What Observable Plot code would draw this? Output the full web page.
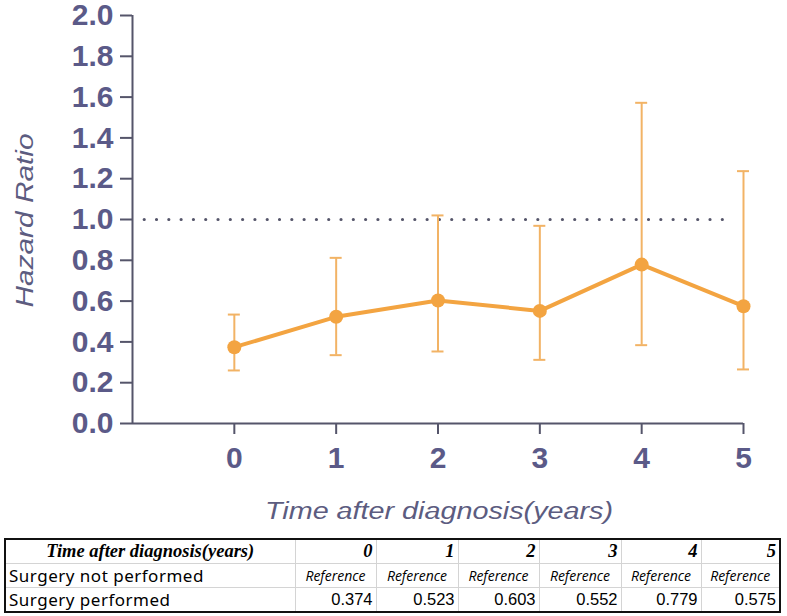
<!DOCTYPE html>
<html>
<head>
<meta charset="utf-8">
<script src="https://cdn.jsdelivr.net/npm/d3@7"></script>
<script src="https://cdn.jsdelivr.net/npm/@observablehq/plot@0.6"></script>
<style>
  html, body { margin: 0; padding: 0; background: #fff; overflow: hidden; }
  #chart svg { display: block; }
  table.hr {
    position: absolute; left: 4px; top: 538px;
    border-collapse: collapse; border: 2px solid #111; table-layout: fixed;
    width: 777px;
  }
  table.hr td { border: 1px solid #d4d4d4; padding: 0 3px; height: 23px; line-height: 23px; white-space: nowrap; overflow: hidden; }
  table.hr tr.head td { font-family: "Liberation Serif", "Times New Roman", serif; font-weight: bold; font-style: italic; font-size: 18.5px; text-align: right; }
  table.hr tr.head td.first { text-align: center; }
  table.hr td.lab { font-family: "Noto Sans", "Liberation Sans", sans-serif; font-size: 17px; letter-spacing: 0.5px; text-align: left; padding-left: 3px; }
  table.hr td.ref { font-family: "Open Sans", "Noto Sans", sans-serif; font-style: italic; font-size: 14px; text-align: center; padding: 0 1px; }
  table.hr td.num { font-family: "Liberation Sans", Arial, sans-serif; font-size: 16.5px; text-align: right; }
</style>
</head>
<body>
<div id="chart"></div>
<div id="tbl"></div>
<script>
// ---- data ----
const years = [0, 1, 2, 3, 4, 5];
const hazardRatio = [0.374, 0.523, 0.603, 0.552, 0.779, 0.575];
const ciLower = [0.260, 0.335, 0.353, 0.312, 0.384, 0.265];
const ciUpper = [0.534, 0.812, 1.020, 0.969, 1.572, 1.237];
const yTicks = [0, 0.2, 0.4, 0.6, 0.8, 1.0, 1.2, 1.4, 1.6, 1.8, 2.0];
const xTicks = [0, 1, 2, 3, 4, 5];
const xDomain = [-1, 5];
const yDomain = [0, 2];
const referenceHR = 1.0;
const refLineSpan = [-0.88, 4.89];
const xTitle = "Time after diagnosis(years)";
const yTitle = "Hazard Ratio";
const tableHeader = "Time after diagnosis(years)";
const rowNotPerformed = "Surgery not performed";
const rowPerformed = "Surgery performed";
const refText = "Reference";

const data = years.map((y, i) => ({year: y, hr: hazardRatio[i], lo: ciLower[i], hi: ciUpper[i]}));

const axisColor = "#55556a";
const tickText = "#5b5a88";
const lineColor = "#f3a441";
const barColor = "#f2b365";

const plot = Plot.plot({
  width: 787,
  height: 535,
  marginLeft: 132,
  marginRight: 44,
  marginTop: 15,
  marginBottom: 112,
  style: {background: "#fff", overflow: "visible"},
  x: {domain: xDomain},
  y: {domain: yDomain},
  marks: [
    // reference dotted line
    Plot.ruleY([referenceHR], {x1: refLineSpan[0], x2: refLineSpan[1], stroke: axisColor, strokeWidth: 3.2, strokeDasharray: "0 12.3", strokeLinecap: "round"}),
    // axis lines
    Plot.ruleX([xDomain[0]], {y1: yDomain[0], y2: yDomain[1], stroke: axisColor, strokeWidth: 2}),
    Plot.ruleY([yDomain[0]], {x1: xDomain[0], x2: xDomain[1], stroke: axisColor, strokeWidth: 2}),
    Plot.axisY({ticks: yTicks, tickFormat: d3.format(".1f"), tickSize: 12, tickPadding: 7, stroke: axisColor, strokeWidth: 2, fill: tickText, fontSize: 30, fontWeight: "bold", fontFamily: "Liberation Sans, Arial, sans-serif", label: null}),
    Plot.axisX({ticks: xTicks, tickFormat: d3.format("d"), tickSize: 11, tickPadding: 12, stroke: axisColor, strokeWidth: 2, fill: tickText, fontSize: 30, fontWeight: "bold", fontFamily: "Liberation Sans, Arial, sans-serif", label: null}),
    // error bars
    Plot.ruleX(data, {x: "year", y1: "lo", y2: "hi", stroke: barColor, strokeWidth: 2}),
    Plot.ruleY(data, {y: "hi", x1: "year", x2: "year", insetLeft: -6, insetRight: -6, stroke: barColor, strokeWidth: 2}),
    Plot.ruleY(data, {y: "lo", x1: "year", x2: "year", insetLeft: -6, insetRight: -6, stroke: barColor, strokeWidth: 2}),
    // line + dots
    Plot.line(data, {x: "year", y: "hr", stroke: lineColor, strokeWidth: 4}),
    Plot.dot(data, {x: "year", y: "hr", r: 7, fill: lineColor, stroke: "none"}),
    // titles
    Plot.text([xTitle], {frameAnchor: "bottom", dx: -173, dy: 88.5, textAnchor: "start", lineAnchor: "middle", text: d => d, fill: "#5c5c80", fontSize: 23, fontStyle: "italic", fontFamily: "Liberation Sans, Arial, sans-serif", ariaDescription: "xtitle"}),
    Plot.text([yTitle], {frameAnchor: "left", dx: -107, dy: 88, rotate: -90, textAnchor: "start", lineAnchor: "middle", text: d => d, fill: "#5c5c80", fontSize: 23, fontStyle: "italic", fontFamily: "Liberation Sans, Arial, sans-serif", ariaDescription: "ytitle"})
  ]
});
document.getElementById("chart").appendChild(plot);
d3.select(plot).select('g[aria-description="xtitle"] text').attr("textLength", 348).attr("lengthAdjust", "spacingAndGlyphs");
d3.select(plot).select('g[aria-description="ytitle"] text').attr("textLength", 174).attr("lengthAdjust", "spacingAndGlyphs");

// ---- table ----
const colWidths = [290, 81, 82, 81, 82, 80, 79];
let html = '<table class="hr"><colgroup>' + colWidths.map(w => `<col style="width:${w}px">`).join("") + '</colgroup>';
html += '<tr class="head"><td class="first">' + tableHeader + '</td>' + years.map(y => `<td>${y}</td>`).join("") + '</tr>';
html += '<tr><td class="lab">' + rowNotPerformed + '</td>' + years.map(() => `<td class="ref">${refText}</td>`).join("") + '</tr>';
html += '<tr><td class="lab">' + rowPerformed + '</td>' + hazardRatio.map(v => `<td class="num">${v.toFixed(3)}</td>`).join("") + '</tr>';
html += '</table>';
document.getElementById("tbl").innerHTML = html;
</script>
</body>
</html>
